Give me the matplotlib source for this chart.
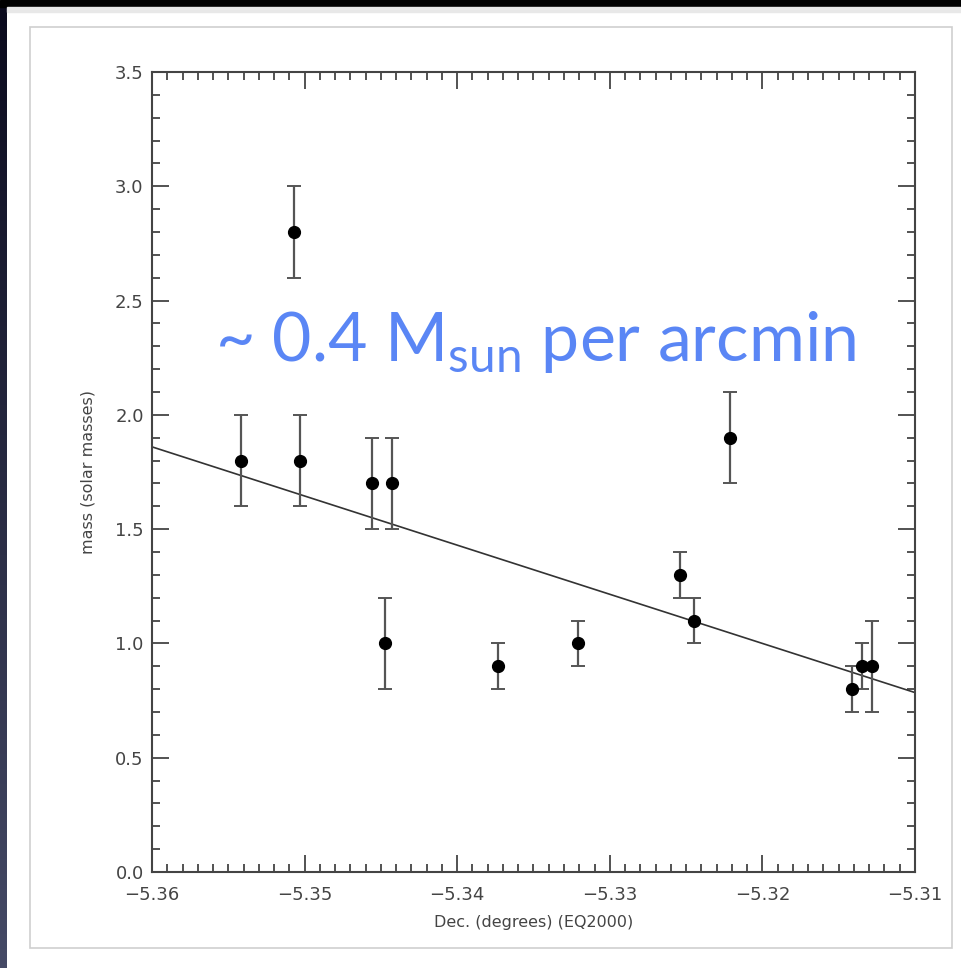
import matplotlib
matplotlib.use("Agg")
import numpy as np
import matplotlib.pyplot as plt
from matplotlib.patches import Rectangle
from matplotlib.ticker import MultipleLocator, FuncFormatter

# measured clumps: declination (deg), mass (solar masses), error
dec = [-5.3542, -5.3507, -5.3503, -5.3456, -5.3443, -5.3447, -5.3373,
       -5.3321, -5.3254, -5.3245, -5.3221, -5.3141, -5.3135, -5.3128]
mass = [1.8, 2.8, 1.8, 1.7, 1.7, 1.0, 0.9, 1.0, 1.3, 1.1, 1.9, 0.8, 0.9, 0.9]
err = [0.2, 0.2, 0.2, 0.2, 0.2, 0.2, 0.1, 0.1, 0.1, 0.1, 0.2, 0.1, 0.1, 0.2]

# linear fit endpoints
fit_x = [-5.36, -5.31]
fit_y = [1.86, 0.785]

plt.rcParams["mathtext.fontset"] = "custom"
plt.rcParams["mathtext.rm"] = "Lato"

fig = plt.figure(figsize=(9.61, 9.68), dpi=100)
fig.patch.set_facecolor("white")

W, H = 961.0, 968.0
# dark surroundings of the slide
fig.patches.append(Rectangle((0, 1 - 7 / H), 1, 7 / H, transform=fig.transFigure,
                             color="black", zorder=0))
side = fig.add_axes([0, 0, 7 / W, 1 - 7 / H])
side.imshow(np.linspace(0, 1, 256).reshape(-1, 1), aspect="auto",
            cmap=matplotlib.colors.LinearSegmentedColormap.from_list(
                "side", ["#0b0b1e", "#454a66"]))
side.axis("off")
fig.patches.append(Rectangle((7 / W, 1 - 12 / H), 1, 5 / H, transform=fig.transFigure,
                             color="#e8e8e8", zorder=0))
# inner panel border
fig.patches.append(Rectangle((30 / W, 1 - 948 / H), 922 / W, 921 / H,
                             transform=fig.transFigure, fill=False,
                             edgecolor="#cfcfcf", lw=1.2, zorder=0))

ax = fig.add_axes([152 / W, 1 - 872 / H, 763 / W, 800 / H])
ax.errorbar(dec, mass, yerr=err, fmt="o", color="black", ms=8.5,
            ecolor="#555555", elinewidth=1.6, capsize=5, capthick=1.4, zorder=3)
ax.plot(fit_x, fit_y, color="#333333", lw=1.2, zorder=2)

ax.set_xlim(-5.36, -5.31)
ax.set_ylim(0, 3.5)
ax.xaxis.set_major_locator(MultipleLocator(0.01))
ax.xaxis.set_minor_locator(MultipleLocator(0.001))
ax.yaxis.set_major_locator(MultipleLocator(0.5))
ax.yaxis.set_minor_locator(MultipleLocator(0.1))
ax.xaxis.set_major_formatter(FuncFormatter(lambda v, p: f"{v:.2f}".replace("-", "\u2212")))
ax.yaxis.set_major_formatter(FuncFormatter(lambda v, p: f"{v:.1f}"))

ax.tick_params(which="both", direction="in", top=True, right=True,
               color="#444444", labelcolor="#444444", labelsize=13, width=1.3)
ax.tick_params(which="major", length=12)
ax.tick_params(which="minor", length=6)
ax.tick_params(axis="x", pad=10)
ax.tick_params(axis="y", pad=6)
for s in ax.spines.values():
    s.set_color("#444444")
    s.set_linewidth(1.5)

ax.set_xlabel("Dec. (degrees) (EQ2000)", fontsize=11.5, color="#444444", labelpad=8)
ax.set_ylabel("mass (solar masses)", fontsize=11.5, color="#444444", labelpad=14)

fig.text(215 / W, 1 - 361 / H, r"~ 0.4 M$_{\mathrm{sun}}$ per arcmin",
         fontsize=49, family="Lato", color="#5A86F5", va="baseline", ha="left")

fig.savefig("out.png", dpi=100, facecolor=fig.get_facecolor())
